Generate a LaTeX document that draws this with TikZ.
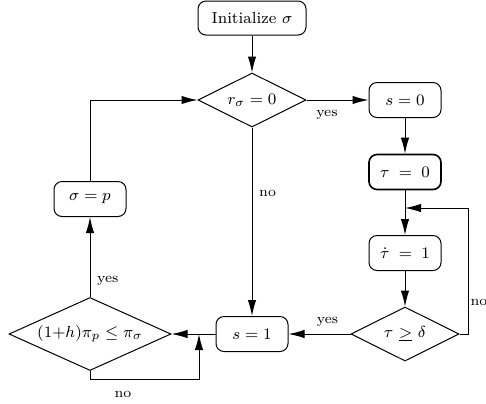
\documentclass[tikz,border=0pt]{standalone}
\usetikzlibrary{shapes.geometric,arrows.meta}
\tikzset{
  box/.style={draw, rounded corners=4pt, minimum width=36pt, minimum height=17.5pt, inner sep=1pt},
  dec/.style={draw, diamond, inner sep=0pt, aspect=2},
  arr/.style={-{Latex[length=8pt,width=4.2pt]}},
  lab/.style={font=\scriptsize}
}
\begin{document}
\begin{tikzpicture}[x=0.5pt,y=-0.5pt,font=\footnotesize,line width=0.5pt]
\useasboundingbox (0,0) rectangle (486,403);
\node[box, minimum width=54pt, minimum height=17pt] (init) at (252,18) {Initialize $\sigma$};
\node[dec, minimum width=54pt, minimum height=27pt] (r) at (252,100) {$r_\sigma=0$};
\node[box] (s0) at (405,100) {$s=0$};
\node[box, line width=0.8pt] (t0) at (405,172) {$\tau\;=\;0$};
\node[box] (t1) at (405,253) {$\dot\tau\;=\;1$};
\node[dec, minimum width=54pt, minimum height=27pt] (td) at (405,334) {$\tau\ \underline{>}\ \delta$};
\node[box] (s1) at (252,334) {$s=1$};
\node[dec, minimum width=81pt, minimum height=36.5pt] (big) at (90,334) {$(1{+}h)\pi_p\leq\pi_\sigma$};
\node[box] (sp) at (90,199) {$\sigma=p$};
\coordinate (j1) at (405,208);
\coordinate (c1) at (468,334);
\coordinate (c2) at (468,208);
\coordinate (j2) at (199,334);
\coordinate (b1) at (90,379);
\coordinate (b2) at (199,379);
\coordinate (u1) at (90,100);
\draw[arr] (init) -- (r);
\draw[arr] (r) -- (s0) node[lab, pos=0.33, below, yshift=-1.5pt] {yes};
\draw[arr] (s0) -- (t0);
\draw[arr] (t0) -- (t1);
\draw[arr] (t1) -- (td);
\draw[arr] (r) -- (s1) node[lab, pos=0.35, right] {no};
\draw[arr] (td.east) -- (c1) -- (c2) -- (j1);
\node[lab, anchor=west, inner sep=0pt] (nolab) at (470,302) {no};
\draw[arr] (td) -- (s1) node[lab, pos=0.37, above] {yes};
\draw[arr] (s1) -- (big);
\draw[arr] (big.south) -- (b1) -- (b2) -- (j2);
\node[lab] (nolab2) at (123,394) {no};
\draw[arr] (big) -- (sp) node[lab, pos=0.2, right] {yes};
\draw[arr] (sp) -- (u1) -- (r.west);
\end{tikzpicture}
\end{document}
